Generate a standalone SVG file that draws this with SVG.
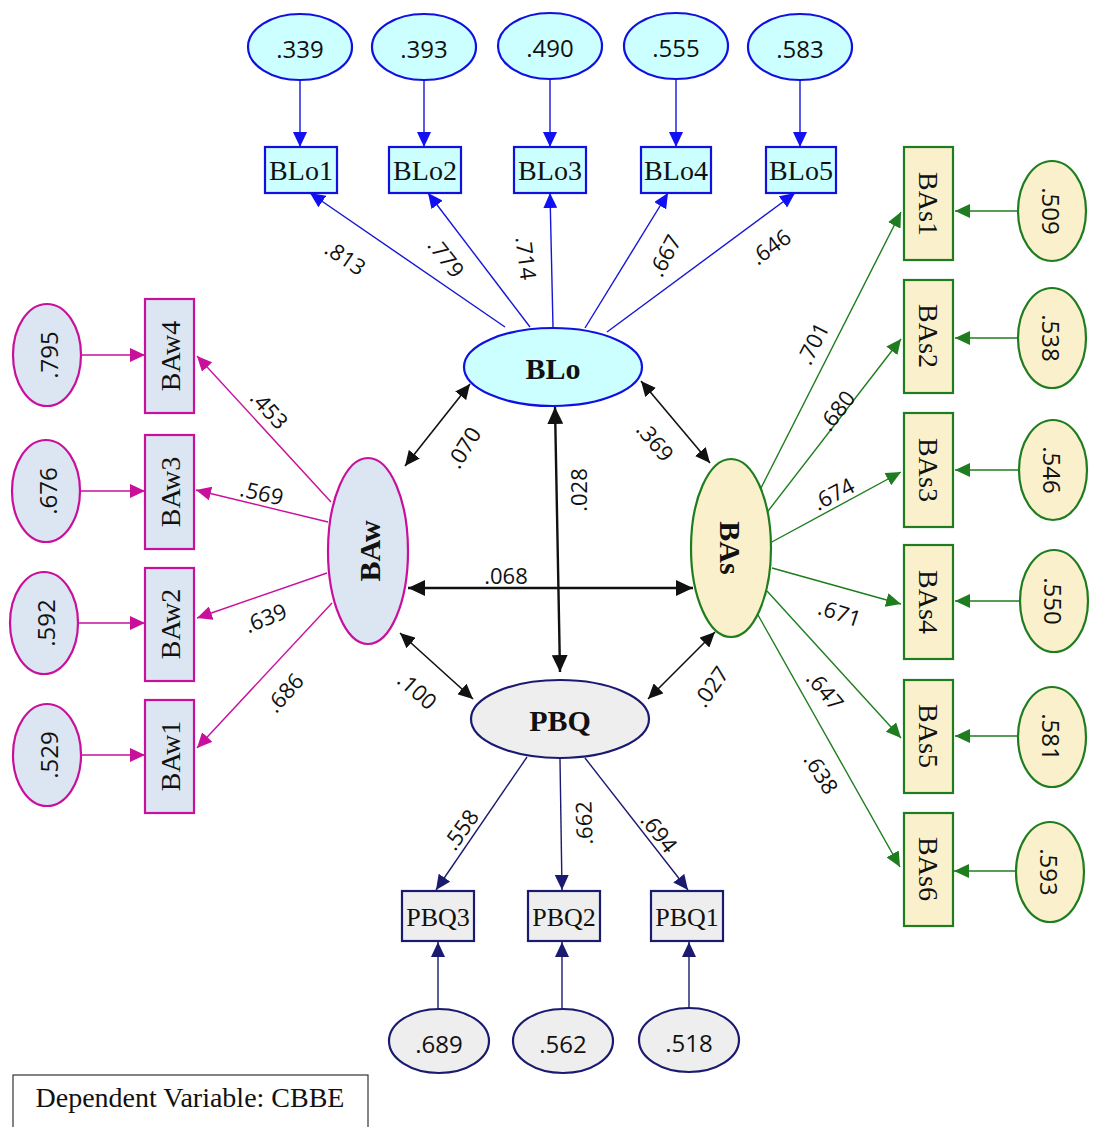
<svg xmlns="http://www.w3.org/2000/svg" width="1094" height="1127" viewBox="0 0 1094 1127">
<style>
  .num{font-family:"Open Sans","Liberation Sans",sans-serif;font-size:24px;fill:#111;text-anchor:middle;dominant-baseline:central}
  .lbl{font-family:"Open Sans","Liberation Sans",sans-serif;font-size:22px;fill:#111;text-anchor:middle;dominant-baseline:central}
  .box{font-family:"Liberation Serif","Times New Roman",serif;font-size:28px;fill:#111;text-anchor:middle;dominant-baseline:central}
  .lat{font-family:"Liberation Serif","Times New Roman",serif;font-size:30px;font-weight:bold;fill:#111;text-anchor:middle;dominant-baseline:central}
  .blo{fill:#ccffff;stroke:#1010e0;stroke-width:2.2}
  .baw{fill:#dce6f2;stroke:#c8109c;stroke-width:2.2}
  .bas{fill:#fbf0cc;stroke:#1e7d1e;stroke-width:2.2}
  .pbq{fill:#eeeeee;stroke:#1a1a70;stroke-width:2.2}
  .eblo{stroke:#1515d8;stroke-width:1.4;fill:none;marker-end:url(#mb)}
  .ebaw{stroke:#c8109c;stroke-width:1.4;fill:none;marker-end:url(#mm)}
  .ebas{stroke:#1e7d1e;stroke-width:1.4;fill:none;marker-end:url(#mg)}
  .epbq{stroke:#1a1a70;stroke-width:1.4;fill:none;marker-end:url(#mn)}
  .cov{stroke:#111;stroke-width:1.6;fill:none;marker-start:url(#mk);marker-end:url(#mk)}
  .covb{stroke:#111;stroke-width:2.4;fill:none;marker-start:url(#mk2);marker-end:url(#mk2)}
</style>
<defs>
  <marker id="mb" markerUnits="userSpaceOnUse" markerWidth="16" markerHeight="14" refX="15" refY="7" orient="auto"><path d="M0,0 L15,7 L0,14 Z" fill="#1010f0"/></marker>
  <marker id="mm" markerUnits="userSpaceOnUse" markerWidth="16" markerHeight="14" refX="15" refY="7" orient="auto"><path d="M0,0 L15,7 L0,14 Z" fill="#c8109c"/></marker>
  <marker id="mg" markerUnits="userSpaceOnUse" markerWidth="16" markerHeight="14" refX="15" refY="7" orient="auto"><path d="M0,0 L15,7 L0,14 Z" fill="#1e7d1e"/></marker>
  <marker id="mn" markerUnits="userSpaceOnUse" markerWidth="16" markerHeight="14" refX="15" refY="7" orient="auto"><path d="M0,0 L15,7 L0,14 Z" fill="#1a1a70"/></marker>
  <marker id="mk" markerUnits="userSpaceOnUse" markerWidth="16" markerHeight="14" refX="15" refY="7" orient="auto-start-reverse"><path d="M0,0 L15,7 L0,14 Z" fill="#111"/></marker>
  <marker id="mk2" markerUnits="userSpaceOnUse" markerWidth="18" markerHeight="16" refX="17" refY="8" orient="auto-start-reverse"><path d="M0,0 L17,8 L0,16 Z" fill="#111"/></marker>
</defs>
<rect width="1094" height="1127" fill="#fff"/>

<g id="connectors">
  <line class="eblo" x1="300" y1="80" x2="300" y2="147"/>
  <line class="eblo" x1="424" y1="80" x2="424" y2="147"/>
  <line class="eblo" x1="550" y1="80" x2="550" y2="147"/>
  <line class="eblo" x1="676" y1="80" x2="676" y2="147"/>
  <line class="eblo" x1="800" y1="80" x2="800" y2="147"/>
  <line class="eblo" x1="505" y1="327" x2="310" y2="193"/>
  <line class="eblo" x1="530" y1="327" x2="428" y2="193"/>
  <line class="eblo" x1="553" y1="327" x2="550" y2="193"/>
  <line class="eblo" x1="585" y1="328" x2="668" y2="193"/>
  <line class="eblo" x1="607" y1="332" x2="795" y2="193"/>
  <line class="ebaw" x1="81" y1="355" x2="145" y2="355"/>
  <line class="ebaw" x1="80" y1="491" x2="145" y2="491"/>
  <line class="ebaw" x1="78" y1="623" x2="145" y2="623"/>
  <line class="ebaw" x1="81" y1="755" x2="145" y2="755"/>
  <line class="ebaw" x1="331" y1="502" x2="197" y2="356"/>
  <line class="ebaw" x1="328" y1="522" x2="196" y2="490"/>
  <line class="ebaw" x1="327" y1="573" x2="197" y2="618"/>
  <line class="ebaw" x1="332" y1="603" x2="197" y2="748"/>
  <line class="ebas" x1="1018" y1="211" x2="955" y2="211"/>
  <line class="ebas" x1="1018" y1="338" x2="955" y2="338"/>
  <line class="ebas" x1="1019" y1="470" x2="955" y2="470"/>
  <line class="ebas" x1="1021" y1="601" x2="955" y2="601"/>
  <line class="ebas" x1="1018" y1="736" x2="955" y2="736"/>
  <line class="ebas" x1="1015" y1="871" x2="954" y2="871"/>
  <line class="ebas" x1="760" y1="490" x2="901" y2="212"/>
  <line class="ebas" x1="765" y1="515" x2="901" y2="339"/>
  <line class="ebas" x1="770" y1="543" x2="901" y2="472"/>
  <line class="ebas" x1="772" y1="568" x2="901" y2="604"/>
  <line class="ebas" x1="767" y1="591" x2="901" y2="738"/>
  <line class="ebas" x1="758" y1="615" x2="900" y2="867"/>
  <line class="epbq" x1="527" y1="757" x2="436" y2="890"/>
  <line class="epbq" x1="560" y1="759" x2="562" y2="890"/>
  <line class="epbq" x1="585" y1="758" x2="688" y2="890"/>
  <line class="epbq" x1="438" y1="1008" x2="438" y2="942"/>
  <line class="epbq" x1="562" y1="1008" x2="562" y2="942"/>
  <line class="epbq" x1="689" y1="1008" x2="689" y2="942"/>
  <line class="cov" x1="470" y1="384" x2="405" y2="466"/>
  <line class="covb" x1="555" y1="407" x2="560" y2="672"/>
  <line class="cov" x1="641" y1="381" x2="710" y2="463"/>
  <line class="covb" x1="408" y1="588" x2="693" y2="588"/>
  <line class="cov" x1="400" y1="633" x2="473" y2="699"/>
  <line class="cov" x1="648" y1="699" x2="715" y2="632"/>

  <text class="lbl" transform="translate(346,257) rotate(34)">.813</text>
  <text class="lbl" transform="translate(447,257) rotate(52)">.779</text>
  <text class="lbl" transform="translate(527,258) rotate(83)">.714</text>
  <text class="lbl" transform="translate(664,255) rotate(-62)">.667</text>
  <text class="lbl" transform="translate(770,246) rotate(-36)">.646</text>
  <text class="lbl" transform="translate(270,409) rotate(48)">.453</text>
  <text class="lbl" transform="translate(262,492) rotate(13)">.569</text>
  <text class="lbl" transform="translate(265,617) rotate(-22)">.639</text>
  <text class="lbl" transform="translate(284,692) rotate(-48)">.686</text>
  <text class="lbl" transform="translate(812,343) rotate(-63)">.701</text>
  <text class="lbl" transform="translate(836,410) rotate(-52)">.680</text>
  <text class="lbl" transform="translate(833,493) rotate(-28)">.674</text>
  <text class="lbl" transform="translate(840,612) rotate(18)">.671</text>
  <text class="lbl" transform="translate(826,690) rotate(50)">.647</text>
  <text class="lbl" transform="translate(822,773) rotate(58)">.638</text>
  <text class="lbl" transform="translate(460,829) rotate(-55)">.558</text>
  <text class="lbl" transform="translate(583,823) rotate(-92)">.662</text>
  <text class="lbl" transform="translate(660,832) rotate(52)">.694</text>
  <text class="lbl" transform="translate(463,447) rotate(-58)">.070</text>
  <text class="lbl" transform="translate(578,490) rotate(-90)">.028</text>
  <text class="lbl" transform="translate(656,441) rotate(50)">.369</text>
  <text class="lbl" x="506" y="575">.068</text>
  <text class="lbl" transform="translate(418,690) rotate(42)">.100</text>
  <text class="lbl" transform="translate(710,686) rotate(-55)">.027</text>
</g>

<g id="BLo"><ellipse class="blo" cx="553" cy="367" rx="89" ry="39"/><text class="lat" x="553" y="368">BLo</text></g>
<g id="e_BLo1"><ellipse class="blo" cx="300" cy="47" rx="52" ry="33"/><text class="num" x="300" y="48">.339</text></g>
<g id="e_BLo2"><ellipse class="blo" cx="424" cy="47" rx="52" ry="33"/><text class="num" x="424" y="48">.393</text></g>
<g id="e_BLo3"><ellipse class="blo" cx="550" cy="46" rx="52" ry="33"/><text class="num" x="550" y="47">.490</text></g>
<g id="e_BLo4"><ellipse class="blo" cx="676" cy="46" rx="52" ry="33"/><text class="num" x="676" y="47">.555</text></g>
<g id="e_BLo5"><ellipse class="blo" cx="800" cy="47" rx="52" ry="33"/><text class="num" x="800" y="48">.583</text></g>
<g id="BLo1"><rect class="blo" x="265" y="147" width="72" height="46"/><text class="box" x="301" y="170">BLo1</text></g>
<g id="BLo2"><rect class="blo" x="389" y="147" width="72" height="46"/><text class="box" x="425" y="170">BLo2</text></g>
<g id="BLo3"><rect class="blo" x="514" y="147" width="72" height="46"/><text class="box" x="550" y="170">BLo3</text></g>
<g id="BLo4"><rect class="blo" x="641" y="147" width="70" height="46"/><text class="box" x="676" y="170">BLo4</text></g>
<g id="BLo5"><rect class="blo" x="766" y="147" width="70" height="46"/><text class="box" x="801" y="170">BLo5</text></g>

<g id="BAw"><ellipse class="baw" cx="368" cy="551" rx="40" ry="93"/><text class="lat" transform="translate(369,551) rotate(-90)">BAw</text></g>
<g id="e_BAw4"><ellipse class="baw" cx="47" cy="355" rx="34" ry="51"/><text class="num" transform="translate(48,355) rotate(-90)">.795</text></g>
<g id="e_BAw3"><ellipse class="baw" cx="46" cy="491" rx="34" ry="51"/><text class="num" transform="translate(47,491) rotate(-90)">.676</text></g>
<g id="e_BAw2"><ellipse class="baw" cx="44" cy="623" rx="34" ry="51"/><text class="num" transform="translate(45,623) rotate(-90)">.592</text></g>
<g id="e_BAw1"><ellipse class="baw" cx="47" cy="755" rx="34" ry="51"/><text class="num" transform="translate(48,755) rotate(-90)">.529</text></g>
<g id="BAw4"><rect class="baw" x="145" y="299" width="49" height="114"/><text class="box" transform="translate(170,356) rotate(-90)">BAw4</text></g>
<g id="BAw3"><rect class="baw" x="145" y="435" width="49" height="114"/><text class="box" transform="translate(170,492) rotate(-90)">BAw3</text></g>
<g id="BAw2"><rect class="baw" x="145" y="568" width="49" height="113"/><text class="box" transform="translate(170,624) rotate(-90)">BAw2</text></g>
<g id="BAw1"><rect class="baw" x="145" y="700" width="49" height="113"/><text class="box" transform="translate(170,756) rotate(-90)">BAw1</text></g>

<g id="BAs"><ellipse class="bas" cx="731" cy="548" rx="40" ry="89"/><text class="lat" transform="translate(730,548) rotate(90)">BAs</text></g>
<g id="BAs1"><rect class="bas" x="904" y="147" width="49" height="113"/><text class="box" transform="translate(928,204) rotate(90)">BAs1</text></g>
<g id="BAs2"><rect class="bas" x="904" y="280" width="49" height="113"/><text class="box" transform="translate(928,336) rotate(90)">BAs2</text></g>
<g id="BAs3"><rect class="bas" x="904" y="413" width="49" height="114"/><text class="box" transform="translate(928,470) rotate(90)">BAs3</text></g>
<g id="BAs4"><rect class="bas" x="904" y="545" width="49" height="114"/><text class="box" transform="translate(928,602) rotate(90)">BAs4</text></g>
<g id="BAs5"><rect class="bas" x="904" y="680" width="49" height="113"/><text class="box" transform="translate(928,736) rotate(90)">BAs5</text></g>
<g id="BAs6"><rect class="bas" x="904" y="813" width="49" height="113"/><text class="box" transform="translate(928,869) rotate(90)">BAs6</text></g>
<g id="e_BAs1"><ellipse class="bas" cx="1052" cy="211" rx="34" ry="50"/><text class="num" transform="translate(1051,211) rotate(90)">.509</text></g>
<g id="e_BAs2"><ellipse class="bas" cx="1052" cy="338" rx="34" ry="50"/><text class="num" transform="translate(1051,338) rotate(90)">.538</text></g>
<g id="e_BAs3"><ellipse class="bas" cx="1053" cy="470" rx="34" ry="50"/><text class="num" transform="translate(1052,470) rotate(90)">.546</text></g>
<g id="e_BAs4"><ellipse class="bas" cx="1054" cy="601" rx="34" ry="51"/><text class="num" transform="translate(1053,601) rotate(90)">.550</text></g>
<g id="e_BAs5"><ellipse class="bas" cx="1052" cy="737" rx="34" ry="50"/><text class="num" transform="translate(1051,737) rotate(90)">.581</text></g>
<g id="e_BAs6"><ellipse class="bas" cx="1050" cy="872" rx="34" ry="50"/><text class="num" transform="translate(1049,872) rotate(90)">.593</text></g>

<g id="PBQ"><ellipse class="pbq" cx="560" cy="719" rx="89" ry="39"/><text class="lat" x="560" y="720">PBQ</text></g>
<g id="PBQ3"><rect class="pbq" x="402" y="891" width="72" height="50"/><text class="box" x="438" y="917" style="font-size:26px">PBQ3</text></g>
<g id="PBQ2"><rect class="pbq" x="528" y="891" width="72" height="50"/><text class="box" x="564" y="917" style="font-size:26px">PBQ2</text></g>
<g id="PBQ1"><rect class="pbq" x="651" y="891" width="72" height="50"/><text class="box" x="687" y="917" style="font-size:26px">PBQ1</text></g>
<g id="e_PBQ3"><ellipse class="pbq" cx="439" cy="1041" rx="50" ry="32"/><text class="num" x="439" y="1043">.689</text></g>
<g id="e_PBQ2"><ellipse class="pbq" cx="563" cy="1041" rx="50" ry="32"/><text class="num" x="563" y="1043">.562</text></g>
<g id="e_PBQ1"><ellipse class="pbq" cx="689" cy="1040" rx="50" ry="32"/><text class="num" x="689" y="1042">.518</text></g>

<g id="legend"><rect x="13" y="1075" width="355" height="60" fill="#fff" stroke="#333" stroke-width="1.2"/><text class="box" x="190" y="1097" style="font-size:28px">Dependent Variable: CBBE</text></g>
</svg>
